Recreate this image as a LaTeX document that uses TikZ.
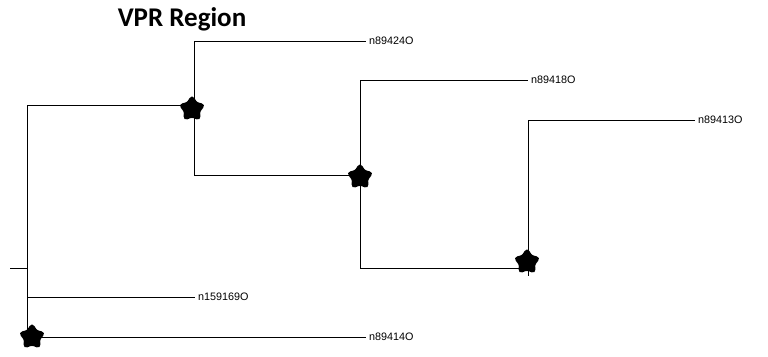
\documentclass[tikz,border=0pt]{standalone}
\usepackage{fontspec}
\setmainfont{Liberation Sans}
\newfontfamily\titlefont{Carlito}
\usetikzlibrary{shapes.geometric}
\begin{document}
\begin{tikzpicture}[x=1pt,y=-1pt,
  branch/.style={line width=0.9pt,black},
  leaflabel/.style={anchor=west,inner sep=3pt,font=\fontsize{10.8}{12}\selectfont},
  markstar/.style={star,star points=5,star point ratio=1.75,fill=black,draw=black,line width=3pt,rounded corners=2.5pt,minimum size=24pt,inner sep=0pt}]
\useasboundingbox (0,0) rectangle (768,356);
% title
\node[font=\titlefont\bfseries\fontsize{27}{30}\selectfont] (title) at (182,19) {VPR Region};
% internal points
\coordinate (stub) at (10,268);
\coordinate (r) at (27,268);
\coordinate (rtop) at (27,105);
\coordinate (rbot) at (27,337);
\coordinate (a) at (194,105);
\coordinate (atop) at (194,41);
\coordinate (abot) at (194,175);
\coordinate (b) at (360,175);
\coordinate (btop) at (360,80);
\coordinate (bbot) at (360,268);
\coordinate (c) at (528,268);
\coordinate (ctop) at (528,120);
\coordinate (cend) at (528,276);
\coordinate (rmid) at (27,297);
% leaf labels
\node[leaflabel] (l1) at (366,41) {n89424O};
\node[leaflabel] (l2) at (528,80) {n89418O};
\node[leaflabel] (l3) at (695,120) {n89413O};
\node[leaflabel] (l4) at (195,297) {n159169O};
\node[leaflabel] (l5) at (366,337) {n89414O};
% branches
\draw[branch] (stub) -- (r);
\draw[branch] (rtop) -- (rbot);
\draw[branch] (rtop) -- (a);
\draw[branch] (atop) -- (abot);
\draw[branch] (atop) -- (l1.west);
\draw[branch] (abot) -- (b);
\draw[branch] (btop) -- (bbot);
\draw[branch] (btop) -- (l2.west);
\draw[branch] (bbot) -- (c);
\draw[branch] (ctop) -- (cend);
\draw[branch] (ctop) -- (l3.west);
\draw[branch] (rmid) -- (l4.west);
\draw[branch] (rbot) -- (l5.west);
% stars
\node[markstar] (s1) at (192,109) {};
\node[markstar] (s2) at (360,177) {};
\node[markstar] (s3) at (527,262) {};
\node[markstar] (s4) at (32,337) {};
\end{tikzpicture}
\end{document}
